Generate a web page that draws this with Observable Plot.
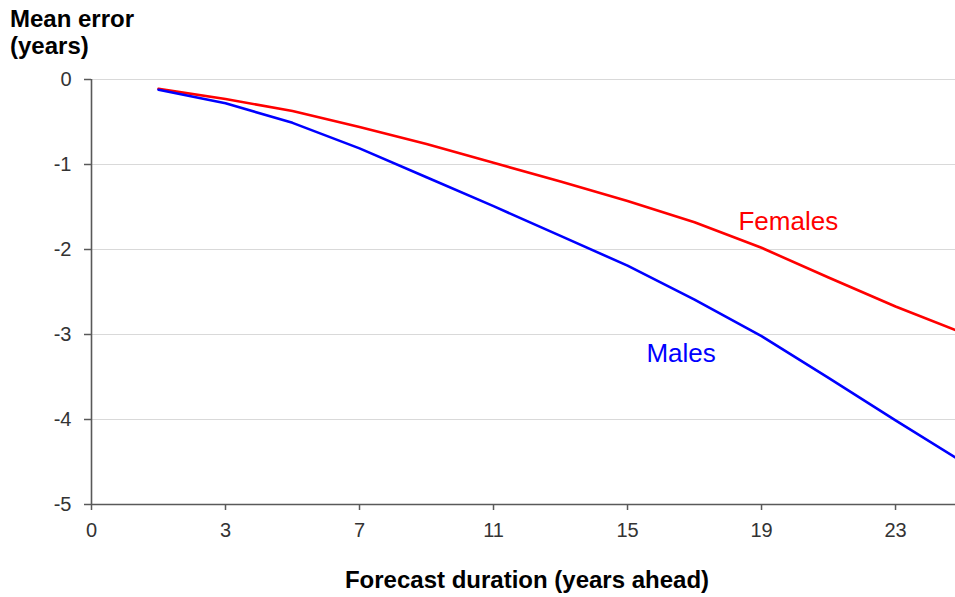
<!DOCTYPE html>
<html>
<head>
<meta charset="utf-8">
<script src="https://cdn.jsdelivr.net/npm/d3@7"></script>
<script src="https://cdn.jsdelivr.net/npm/@observablehq/plot@0.6"></script>
<style>
  body { margin: 0; background: #fff; font-family: "Liberation Sans", Arial, sans-serif; }
  #wrap { position: relative; width: 955px; height: 597px; }
  #ytitle { position: absolute; left: 10px; top: 5px; font-weight: bold; font-size: 24px; line-height: 27px; color: #000; }
  #xtitle { position: absolute; left: 0; width: 1054px; text-align: center; top: 566px; font-weight: bold; font-size: 24px; line-height: 28px; color: #000; }
  svg { position: absolute; left: 0; top: 0; }
</style>
</head>
<body>
<div id="wrap">
  <div id="chart"></div>
  <div id="ytitle">Mean error<br>(years)</div>
  <div id="xtitle">Forecast duration (years ahead)</div>
</div>
<script>
// Forecast horizon (years ahead) of each point
const years = [1, 3, 5, 7, 9, 11, 13, 15, 17, 19, 21, 23, 25];
// Mean error (years) by series
const females = [-0.11, -0.23, -0.37, -0.56, -0.76, -0.98, -1.20, -1.43, -1.68, -1.98, -2.33, -2.67, -2.98];
const males   = [-0.12, -0.28, -0.51, -0.81, -1.15, -1.49, -1.84, -2.19, -2.59, -3.02, -3.51, -4.01, -4.50];
const seriesNames = ["Females", "Males"];
const seriesColors = ["#ff0000", "#0000ff"];
// Axis ticks
const xTickValues = [-1, 3, 7, 11, 15, 19, 23];
const xTickLabels = ["0", "3", "7", "11", "15", "19", "23"];
const yTickValues = [0, -1, -2, -3, -4, -5];
// Direct labels
const labelNames = ["Females", "Males"];
const labelYears = [19.8, 16.6];
const labelValues = [-1.67, -3.22];

const data = [];
years.forEach((yr, i) => {
  data.push({year: yr, value: females[i], series: seriesNames[0]});
});
years.forEach((yr, i) => {
  data.push({year: yr, value: males[i], series: seriesNames[1]});
});
const labels = labelNames.map((n, i) => ({name: n, year: labelYears[i], value: labelValues[i]}));

const chart = Plot.plot({
  width: 955,
  height: 597,
  marginLeft: 91,
  marginRight: 0,
  marginTop: 79,
  marginBottom: 93,
  style: { fontFamily: "'Liberation Sans', Arial, sans-serif", background: "#fff", color: "#000" },
  x: { domain: [-1, 24.79] },
  y: { domain: [-5, 0] },
  color: { domain: seriesNames, range: seriesColors },
  marks: [
    Plot.gridY(yTickValues.filter(d => d !== -5), { stroke: "#d9d9d9", strokeOpacity: 1, strokeWidth: 1.2 }),
    Plot.line(data, { x: "year", y: "value", stroke: "series", z: "series", strokeWidth: 2.6, clip: true }),
    Plot.ruleX([-1], { stroke: "#595959", strokeWidth: 1.6 }),
    Plot.ruleY([-5], { stroke: "#595959", strokeWidth: 1.6 }),
    Plot.axisY(yTickValues, {
      tickFormat: d => String(d),
      tickSize: 7, tickPadding: 13, fontSize: 20, stroke: "#595959", strokeWidth: 1.5, fill: "#333", label: null
    }),
    Plot.axisX(xTickValues, {
      tickFormat: d => xTickLabels[xTickValues.indexOf(d)],
      tickSize: 6, tickPadding: 12, fontSize: 20, stroke: "#595959", strokeWidth: 1.5, fill: "#333", label: null
    }),
    Plot.text(labels, { x: "year", y: "value", text: "name", fill: d => d.name, fontSize: 26, textAnchor: "middle" })
  ]
});
document.getElementById("chart").appendChild(chart);
</script>
</body>
</html>
